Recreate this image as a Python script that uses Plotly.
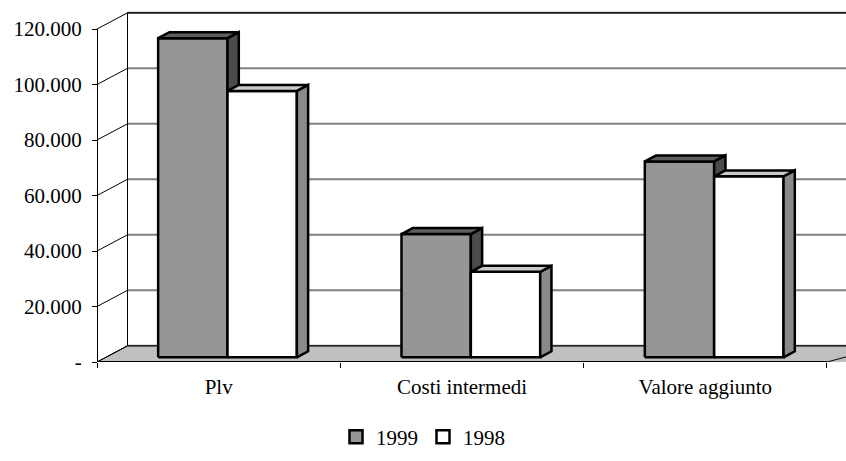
import plotly.graph_objects as go

# ---- data -------------------------------------------------------------
categories = ["Plv", "Costi intermedi", "Valore aggiunto"]
series_names = ["1999", "1998"]
values_1999 = [115000, 44400, 70600]
values_1998 = [96000, 30800, 65200]
y_tick_values = [0, 20000, 40000, 60000, 80000, 100000, 120000]
y_tick_labels = ["-", "20.000", "40.000", "60.000", "80.000", "100.000", "120.000"]

# ---- styling / geometry of the oblique 3-D look -----------------------
FONT = dict(family="Liberation Serif, Times New Roman, serif", size=21, color="black")
W, H = 846, 461
M_L, M_B = 85, 99
PX_PER_CAT = 243.33              # width of one category on the front plane
PX_PER_UNIT_Y = 333 / 120000     # vertical scale of the value axis
LEFT_PAD = 12                    # gap between plot edge and the front axis
DEPTH_PX = (30.5, 16.2)          # screen offset from front to back wall

DX = DEPTH_PX[0] / PX_PER_CAT
DY = DEPTH_PX[1] / PX_PER_UNIT_Y
plot_w = W - M_L
plot_h = H - M_B
x_lo = -0.5 - LEFT_PAD / PX_PER_CAT
x_hi = x_lo + plot_w / PX_PER_CAT
y_hi = plot_h / PX_PER_UNIT_Y
y_max = 120000

BAR_W = 0.285
D0, D1 = 0.29, 0.66              # depth occupied by the bars
face_colors = {
    "1999": dict(front="#969696", top="#5e5e5e", side="#4b4b4b"),
    "1998": dict(front="#ffffff", top="#cacaca", side="#8a8a8a"),
}


def proj(x, v, d):
    """Map (category position, value, depth 0..1) onto the 2-D axes."""
    return x + d * DX, v + d * DY


def poly(points, fill, line_color="black", line_width=2.5):
    xs, ys = zip(*[proj(*p) for p in points])
    return go.Scatter(
        x=list(xs) + [xs[0]], y=list(ys) + [ys[0]],
        mode="lines", fill="toself", fillcolor=fill,
        line=dict(color=line_color, width=line_width),
        hoverinfo="skip", showlegend=False,
    )


def segment(p, q, color="black", width=1):
    (x0, y0), (x1, y1) = proj(*p), proj(*q)
    return go.Scatter(
        x=[x0, x1], y=[y0, y1], mode="lines",
        line=dict(color=color, width=width),
        hoverinfo="skip", showlegend=False,
    )


fig = go.Figure()

x_left, x_right = -0.5, len(categories) - 0.5
x_far = x_right + 1.0  # back wall runs past the right edge

# floor
fig.add_trace(poly([(x_left, 0, 0), (x_right, 0, 0), (x_right, 0, 1), (x_left, 0, 1)],
                   "#c0c0c0", line_width=1))
fig.add_trace(poly([(x_right, 0, 0), (x_far, 0, 0), (x_far, 0, 1), (x_right, 0, 1)],
                   "#c0c0c0", line_color="rgba(0,0,0,0)", line_width=0))
fig.add_trace(segment((x_right, 0, 0), (x_right, 0, 1), color="#c0c0c0", width=2))
fig.add_trace(segment((x_right, 0, 0), (x_right + 2 * DX, 0, 2), width=1))

# gridlines on the back wall and on the left side wall
for v in y_tick_values:
    fig.add_trace(segment((x_left, v, 1), (x_far, v, 1), color="#808080", width=2))
    fig.add_trace(segment((x_left, v, 0), (x_left, v, 1), width=1))
fig.add_trace(segment((x_left, y_max, 1), (x_far, y_max, 1), width=1.2))
fig.add_trace(segment((x_left, 0, 1), (x_left, y_max, 1), width=1))
fig.add_trace(segment((x_left, 0, 1), (x_far, 0, 1), width=1))

# front edge of the floor
fig.add_trace(segment((x_left, 0, 0), (x_right, 0, 0), width=1.8))

# bars, drawn left to right so nearer faces cover the ones behind
for i, cat in enumerate(categories):
    for s, (name, vals) in enumerate(zip(series_names, [values_1999, values_1998])):
        v = vals[i]
        x0 = i - BAR_W + s * BAR_W
        x1 = x0 + BAR_W
        c = face_colors[name]
        fig.add_trace(poly([(x0, 0, D0), (x1, 0, D0), (x1, v, D0), (x0, v, D0)], c["front"]))
        fig.add_trace(poly([(x1, 0, D0), (x1, 0, D1), (x1, v, D1), (x1, v, D0)], c["side"]))
        fig.add_trace(poly([(x0, v, D0), (x1, v, D0), (x1, v, D1), (x0, v, D1)], c["top"]))

# legend entries
for name in series_names:
    fig.add_trace(go.Scatter(
        x=[None], y=[None], mode="markers", name=name,
        marker=dict(symbol="square", size=13, color=face_colors[name]["front"],
                    line=dict(color="black", width=2.5)),
    ))

# helper traces so the secondary axes are drawn
fig.add_trace(go.Scatter(x=[None], y=[None], xaxis="x2", yaxis="y",
                         showlegend=False, hoverinfo="skip"))
fig.add_trace(go.Scatter(x=[None], y=[None], xaxis="x", yaxis="y2",
                         showlegend=False, hoverinfo="skip"))

fig.update_layout(
    width=W, height=H,
    margin=dict(l=M_L, r=0, t=0, b=M_B, autoexpand=False),
    paper_bgcolor="white", plot_bgcolor="rgba(0,0,0,0)",
    font=FONT,
    showlegend=True,
    legend=dict(orientation="h", x=0.5, xanchor="center", xref="container",
                y=1 - 437 / H, yanchor="middle", yref="container",
                font=FONT, itemwidth=30, tracegroupgap=0),
    xaxis=dict(range=[x_lo, x_hi], tickvals=list(range(len(categories))),
               ticktext=categories, ticks="", showgrid=False, zeroline=False,
               showline=False, ticklabelstandoff=10, fixedrange=True, tickfont=FONT),
    xaxis2=dict(range=[x_lo, x_hi], overlaying="x", anchor="y",
                tickvals=[k - 0.5 for k in range(len(categories) + 1)],
                ticks="outside", ticklen=5, tickwidth=1, tickcolor="black",
                showticklabels=False, showgrid=False, zeroline=False, showline=False),
    yaxis=dict(range=[0, y_hi], showticklabels=False, ticks="", showgrid=False,
               zeroline=False, showline=False, fixedrange=True),
    yaxis2=dict(range=[0, y_max], domain=[0, y_max / y_hi], anchor="free",
                position=LEFT_PAD / plot_w, tickvals=y_tick_values,
                ticktext=y_tick_labels, ticks="outside", ticklen=5, tickwidth=1,
                tickcolor="black", showline=True, linecolor="black", linewidth=1,
                showgrid=False, zeroline=False, ticklabelstandoff=6, tickfont=FONT),
)

fig.write_html("out.html")
